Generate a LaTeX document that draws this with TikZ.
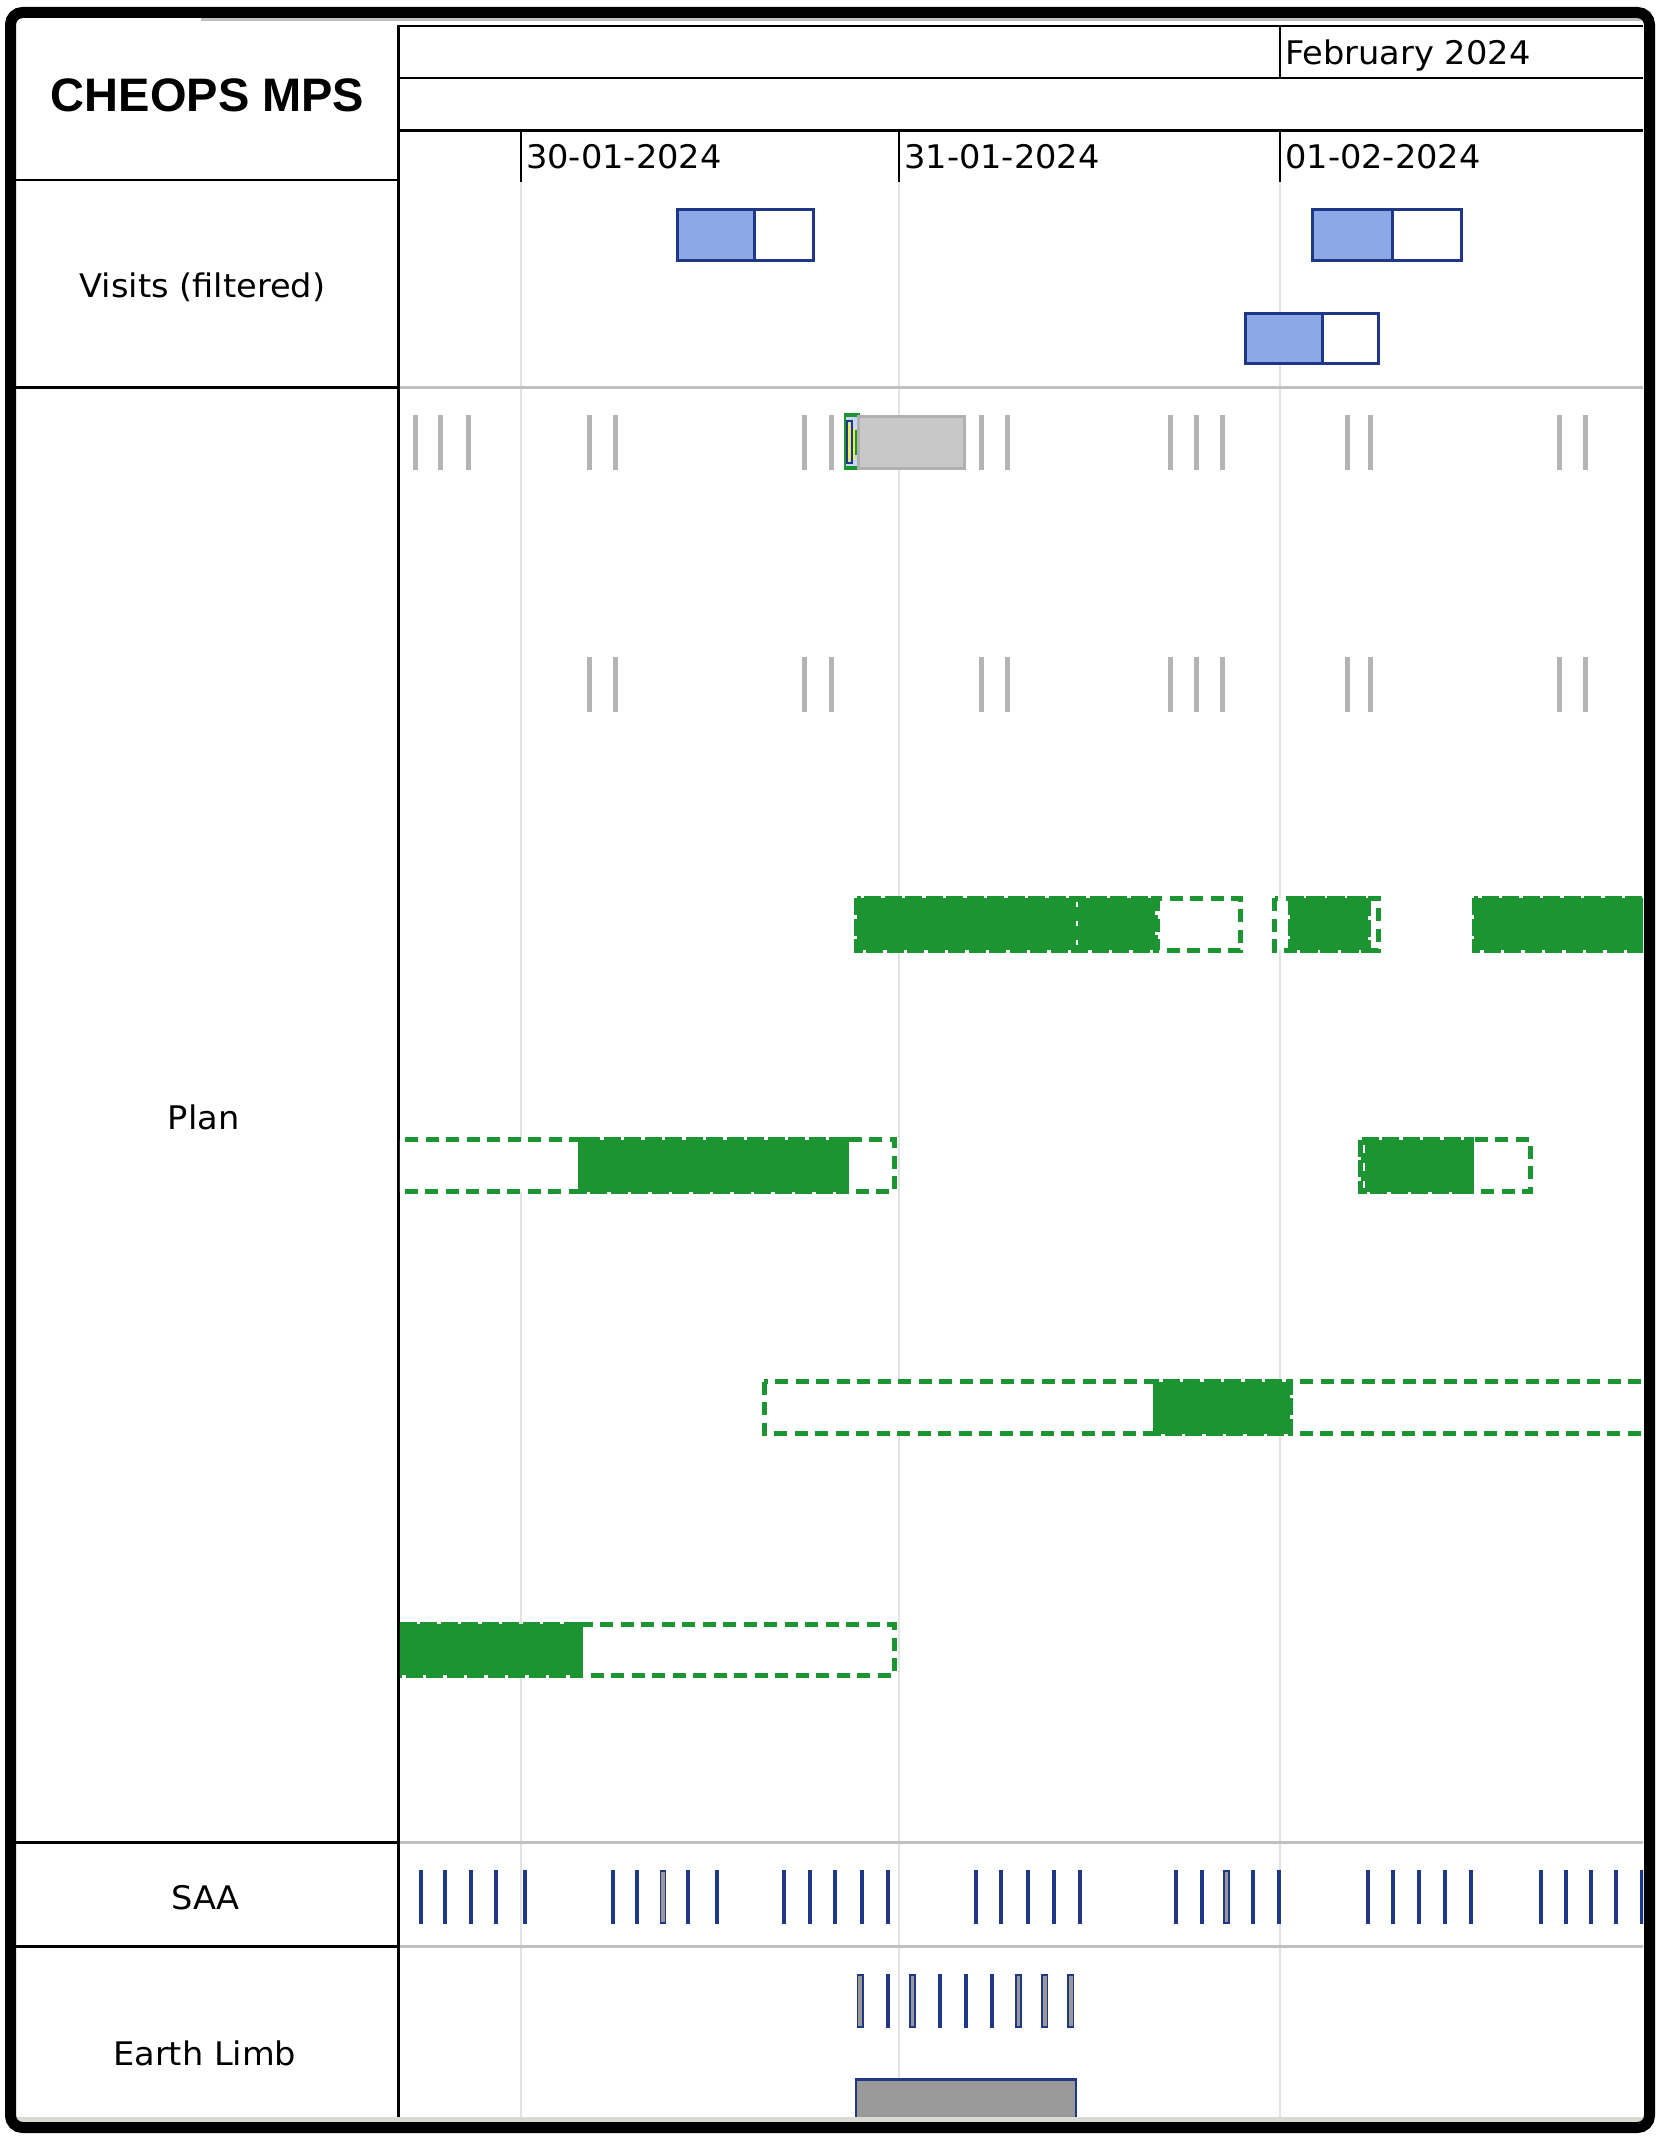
\documentclass[tikz,border=0pt]{standalone}
\usepackage{fontspec}
\setmainfont[FakeStretch=1.035]{DejaVu Sans}
\newfontfamily\titlefont{Liberation Sans}
\definecolor{pgreen}{RGB}{28,148,50}
\definecolor{navy}{RGB}{31,55,135}
\definecolor{vblue}{RGB}{140,168,230}
\definecolor{tickgray}{RGB}{180,180,180}
\definecolor{boxfill}{RGB}{200,200,200}
\definecolor{boxline}{RGB}{176,176,176}
\definecolor{elgray}{RGB}{153,153,153}
\definecolor{gridgray}{RGB}{226,226,226}
\definecolor{sepgray}{RGB}{192,192,192}
\definecolor{stripgray}{RGB}{218,218,212}
\definecolor{lblueb}{RGB}{200,215,245}
\definecolor{ylw}{RGB}{240,240,60}
\newcommand\lblfont{\fontsize{32.5}{38}\selectfont}
\begin{document}
\begin{tikzpicture}[x=1pt,y=-1pt,
  hdr/.style={black,line width=2.6},
  gridl/.style={gridgray,line width=2},
  sepl/.style={sepgray,line width=3},
  lbl/.style={anchor=base,inner sep=0,font=\lblfont},
  datelbl/.style={anchor=base west,inner sep=0,font=\lblfont},
  gsolid/.style={draw=pgreen,fill=pgreen,line width=5,dash pattern=on 17 off 3.5},
  gempty/.style={draw=pgreen,fill=white,line width=5,dash pattern=on 13 off 7.5},
  visitbox/.style={draw=navy,line width=3},
  ptick/.style={fill=tickgray}]
\useasboundingbox (0,0) rectangle (1662,2140);
\fill[white] (0,0) rectangle (1662,2140);

% day gridlines
\foreach \x in {521,899,1280} \draw[gridl] (\x,181) -- (\x,2117);

% header
\draw[sepgray,line width=3] (201,19.5) -- (1643,19.5);
\draw[hdr] (398.5,26) -- (1643,26);
\draw[hdr] (398.5,78) -- (1643,78);
\draw[hdr] (398.5,130.7) -- (1643,130.7);
\draw[hdr] (1280,26) -- (1280,78);
\foreach \x in {521,899,1280} \draw[hdr] (\x,130.7) -- (\x,181.7);
\node[datelbl] (feb) at (1285,64.3) {February 2024};
\node[datelbl] (d30) at (526,168.3) {30-01-2024};
\node[datelbl] (d31) at (904,168.3) {31-01-2024};
\node[datelbl] (d01) at (1285,168.3) {01-02-2024};

% left column
\draw[hdr] (398.5,24.7) -- (398.5,2117);
\draw[hdr] (16,180) -- (398.5,180);
\draw[hdr] (16,387.7) -- (398.5,387.7);
\draw[hdr] (16,1842.7) -- (398.5,1842.7);
\draw[hdr] (16,1946.7) -- (398.5,1946.7);
\node[anchor=base,inner sep=0,font=\titlefont\bfseries\fontsize{47}{50}\selectfont] (title) at (207.6,111.7) {CHEOPS MPS};
\node[lbl] (visits) at (202.5,297.7) {Visits (filtered)};
\node[lbl] (plan) at (203.6,1129) {Plan};
\node[lbl] (saa) at (205.5,1909.3) {SAA};
\node[lbl] (limb) at (204.7,2065) {Earth Limb};

% chart row separators
\draw[sepl] (400,387.5) -- (1643,387.5);
\draw[sepl] (400,1842.7) -- (1643,1842.7);
\draw[sepl] (400,1946.7) -- (1643,1946.7);

\begin{scope}
\clip (399.8,181) rectangle (1643,2117);
% visits
\draw[visitbox,fill=white] (677.5,209.5) rectangle (813.5,260.5);
\draw[visitbox,fill=vblue] (677.5,209.5) rectangle (754.4,260.5);
\draw[visitbox,fill=white] (1312.5,209.5) rectangle (1461.5,260.5);
\draw[visitbox,fill=vblue] (1312.5,209.5) rectangle (1392.3,260.5);
\draw[visitbox,fill=white] (1245.5,313.5) rectangle (1378,363.5);
\draw[visitbox,fill=vblue] (1245.5,313.5) rectangle (1322.3,363.5);

% plan: gray ticks
\foreach \x in {415.7,440.7,468,589.8,615.7,804.6,831.3,981.3,1007.2,1170.6,1196.4,1222.6,1347,1370.6,1559.5,1585.7}
  \fill[ptick] (\x-2.5,415) rectangle (\x+2.5,470);
\foreach \x in {589.8,615.7,804.6,831.3,981.3,1007.2,1170.6,1196.4,1222.6,1347,1370.6,1559.5,1585.7}
  \fill[ptick] (\x-2.5,657) rectangle (\x+2.5,712);
% small green item and gray box
\fill[pgreen] (844,413) rectangle (859.5,470);
\fill[lblueb] (845.5,417) rectangle (857.5,466);
\draw[navy,line width=2] (846.5,421) rectangle (851.5,463);
\fill[ylw] (847.8,423) rectangle (850.2,461);
\fill[ylw] (852.5,428) rectangle (855,460);
\fill[pgreen] (855,430) rectangle (857,455);
\draw[draw=boxline,fill=boxfill,line width=3] (858.5,416.5) rectangle (964.5,468.5);

% plan: green bars, row A
\draw[gempty] (1157,898.2) rectangle (1240.8,950.2);
\draw[gsolid] (856.5,898.2) rectangle (1155,950.2);
\draw[white,line width=2,dash pattern=on 5 off 14] (1076.7,902) -- (1076.7,948);
\draw[gempty] (1274.8,898.2) rectangle (1378.2,950.2);
\draw[gsolid] (1290,898.2) rectangle (1368,950.2);
\draw[gsolid] (1474.2,898.2) rectangle (1660,950.2);
% row B
\draw[gempty] (395,1139.8) rectangle (580.3,1191.5);
\draw[gempty] (846,1139.8) rectangle (894.3,1191.5);
\draw[gsolid] (580.3,1139.8) rectangle (846,1191.5);
\draw[gempty] (1471.6,1139.8) rectangle (1530.5,1191.5);
\draw[gsolid] (1360.5,1139.8) rectangle (1471.6,1191.5);
\draw[white,line width=2,dash pattern=on 8 off 10] (1364,1145) -- (1364,1188);
% row C
\draw[gempty] (764.3,1381.8) rectangle (1155,1433.5);
\draw[gempty] (1290,1381.8) rectangle (1660,1433.5);
\draw[gsolid] (1155,1381.8) rectangle (1290,1433.5);
% row D
\draw[gempty] (580.3,1624.2) rectangle (894.3,1675.2);
\draw[gsolid] (395,1624.2) rectangle (580.3,1675.2);

% SAA
\foreach \x in {420.9,445.4,470.8,496.1,524.7,613,636.7,688.3,716.9,783.9,810.1,835.4,861.6,887.8,976,1001.4,1027.6,1053.7,1079.9,1175.6,1201.8,1253.3,1279.4,1367.7,1393.1,1419.2,1444.6,1470.8,1541.1,1566.4,1591,1616.3,1641.7}
  \fill[navy] (\x-2,1870) rectangle (\x+2,1924);
\foreach \x in {662.9,1226.3}
  \draw[navy,line width=1.6,fill=elgray] (\x-2.6,1871) rectangle (\x+2.6,1923);

% Earth limb
\foreach \x in {887.8,940.1,965.5,991.6}
  \fill[navy] (\x-2,1974) rectangle (\x+2,2028);
\foreach \x in {860,912.3,1018.6,1044.8,1070.9}
  \draw[navy,line width=1.8,fill=elgray] (\x-2.6,1975) rectangle (\x+2.6,2027);
\draw[navy,line width=1.5,fill=elgray] (855.8,2079.5) rectangle (1075.8,2135);
\draw[navy,line width=3] (855,2079.5) -- (1076.6,2079.5);
\end{scope}

% bottom strip and frame
\fill[stripgray] (16,2117) rectangle (1643,2122);
\draw[black,line width=11,rounded corners=12] (10.5,12.5) rectangle (1649.5,2127.5);
\end{tikzpicture}
\end{document}
